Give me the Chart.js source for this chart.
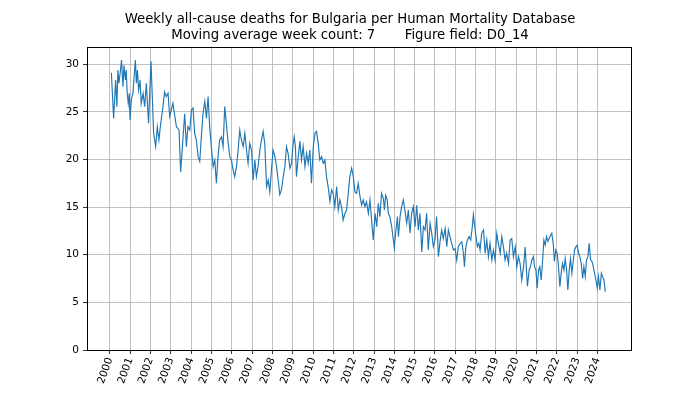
<!DOCTYPE html>
<html>
<head>
<meta charset="utf-8">
<script src="https://cdn.jsdelivr.net/npm/chart.js@4/dist/chart.umd.min.js"></script>
<style>
  html, body { margin: 0; padding: 0; background: #fff; }
  canvas { display: block; }
</style>
</head>
<body>
<canvas id="deathChart" width="700" height="394"></canvas>
<script>
// Weekly all-cause deaths, Bulgaria (HMD), 7-week moving average
var weekYears = [
  2000.07, 2000.18, 2000.28, 2000.34, 2000.39, 2000.44, 2000.51, 2000.57, 2000.64, 2000.69,
  2000.76, 2000.80, 2000.85, 2000.90, 2000.95, 2000.99, 2001.05, 2001.13, 2001.25, 2001.30,
  2001.35, 2001.41, 2001.48, 2001.54, 2001.63, 2001.71, 2001.79, 2001.90, 2002.02, 2002.09,
  2002.15, 2002.25, 2002.33, 2002.41, 2002.50, 2002.61, 2002.69, 2002.77, 2002.86, 2002.94,
  2003.10, 2003.27, 2003.40, 2003.48, 2003.60,
  2003.68, 2003.76, 2003.84, 2003.93, 2004.01, 2004.09, 2004.17, 2004.25, 2004.34, 2004.42,
  2004.50, 2004.58, 2004.67, 2004.75, 2004.83, 2004.91, 2004.99, 2005.08, 2005.16, 2005.24,
  2005.32, 2005.40, 2005.49, 2005.57, 2005.65, 2005.73, 2005.82, 2005.90, 2005.98, 2006.06,
  2006.14, 2006.23, 2006.31, 2006.39, 2006.47, 2006.56, 2006.64, 2006.72, 2006.80, 2006.88,
  2006.97, 2007.05, 2007.13, 2007.21, 2007.29, 2007.38, 2007.46, 2007.54, 2007.62, 2007.71,
  2007.79,
  2007.87, 2007.95, 2008.03, 2008.12, 2008.20, 2008.28, 2008.36, 2008.44, 2008.53, 2008.61,
  2008.69, 2008.77, 2008.86, 2008.94, 2009.02, 2009.07, 2009.13, 2009.18, 2009.27, 2009.35,
  2009.43, 2009.51, 2009.60, 2009.68, 2009.76, 2009.84, 2009.92, 2010.01, 2010.09, 2010.17,
  2010.25, 2010.33, 2010.42, 2010.50, 2010.58, 2010.66, 2010.74, 2010.83, 2010.91, 2010.99,
  2011.07, 2011.16, 2011.24, 2011.32, 2011.40, 2011.48, 2011.57, 2011.65, 2011.73, 2011.81,
  2011.90, 2011.98,
  2012.06, 2012.14, 2012.22, 2012.31, 2012.39, 2012.47, 2012.55, 2012.63, 2012.72, 2012.80,
  2012.88, 2012.96, 2013.05, 2013.13, 2013.21, 2013.29, 2013.37, 2013.46, 2013.51, 2013.57,
  2013.65, 2013.70, 2013.78, 2013.87, 2013.95, 2014.00, 2014.06, 2014.15, 2014.20, 2014.28,
  2014.36, 2014.44, 2014.52, 2014.61, 2014.69, 2014.77, 2014.85, 2014.93, 2015.02, 2015.10,
  2015.18, 2015.26, 2015.35, 2015.43, 2015.51, 2015.59, 2015.67, 2015.76, 2015.84, 2015.92,
  2016.00, 2016.08, 2016.17,
  2016.25, 2016.33, 2016.41, 2016.50, 2016.58, 2016.66, 2016.74, 2016.82, 2016.91, 2016.99,
  2017.07, 2017.15, 2017.24, 2017.32, 2017.40, 2017.45, 2017.52, 2017.60, 2017.68, 2017.76,
  2017.84, 2017.89, 2017.96, 2018.02, 2018.09, 2018.16, 2018.22, 2018.30, 2018.39, 2018.47,
  2018.55, 2018.63, 2018.71, 2018.80, 2018.88, 2018.96, 2019.04, 2019.12, 2019.21, 2019.29,
  2019.37, 2019.45, 2019.53, 2019.62, 2019.70, 2019.78, 2019.86, 2019.95, 2020.03, 2020.11,
  2020.19, 2020.27, 2020.36,
  2020.44, 2020.55, 2020.64, 2020.70, 2020.77, 2020.85, 2020.90, 2020.97, 2021.03, 2021.10,
  2021.16, 2021.23, 2021.29, 2021.36, 2021.43, 2021.49, 2021.56, 2021.62, 2021.69, 2021.75,
  2021.82, 2021.88, 2021.95, 2022.02, 2022.08, 2022.15, 2022.21, 2022.28, 2022.35, 2022.41,
  2022.48, 2022.54, 2022.61, 2022.67, 2022.74, 2022.81, 2022.87, 2022.94, 2023.00, 2023.07,
  2023.13, 2023.20, 2023.27, 2023.33, 2023.40, 2023.46, 2023.53, 2023.59, 2023.66, 2023.73,
  2023.79, 2023.86, 2023.92, 2023.99, 2024.05, 2024.12, 2024.19, 2024.25, 2024.32, 2024.38
];

var deaths = [
  29.1, 24.3, 28.35, 25.55, 29.4, 28.0, 29.2, 30.45, 27.65, 29.9,
  28.35, 29.4, 26.95, 25.9, 26.95, 24.15, 26.25, 26.95, 30.45, 28.0,
  29.4, 27.3, 28.35, 25.9, 26.95, 25.55, 28.0, 23.8, 30.3, 26.25,
  22.75, 21.35, 23.45, 22.05, 23.8, 25.55, 27.1, 26.6, 26.95, 24.5,
  25.9, 23.45, 23.1, 18.7, 22.4,
  24.8, 21.35, 23.45, 23.1, 25.2, 25.4, 22.75, 22.05, 20.3, 19.8,
  22.4, 24.85, 26.1, 24.3, 26.6, 23.45, 21.35, 19.25, 19.95, 17.5,
  20.3, 22.05, 22.4, 21.35, 25.55, 23.8, 21.7, 20.3, 19.95, 18.9,
  18.2, 19.25, 21.0, 23.1, 22.05, 21.35, 22.75, 21.0, 19.6, 21.7,
  21.0, 17.85, 19.95, 18.2, 19.25, 21.0, 22.05, 22.95, 21.7, 17.15,
  17.85,
  16.6, 18.9, 21.0, 20.3, 19.25, 17.85, 16.3, 16.8, 18.2, 19.25,
  21.35, 20.65, 19.1, 19.6, 21.7, 22.4, 21.35, 18.2, 20.3, 21.9,
  19.95, 21.35, 19.25, 20.65, 19.6, 21.0, 17.5, 21.35, 22.75, 22.95,
  21.7, 19.95, 20.3, 19.6, 19.95, 18.2, 17.15, 15.6, 16.8, 16.45,
  15.05, 17.15, 14.7, 15.75, 15.05, 13.65, 14.35, 14.7, 16.45, 18.2,
  19.1, 18.2,
  16.6, 16.45, 17.5, 16.1, 15.2, 15.75, 15.05, 15.55, 14.35, 15.75,
  13.65, 11.55, 14.35, 12.95, 15.4, 14.0, 16.45, 15.9, 14.7, 16.25,
  15.75, 14.35, 14.0, 12.95, 11.55, 10.7, 12.25, 14.0, 11.9, 14.0,
  15.05, 15.75, 14.7, 13.3, 14.7, 12.25, 14.35, 15.05, 12.95, 15.2,
  12.6, 14.35, 10.3, 12.95, 12.6, 14.35, 10.5, 13.3, 12.25, 10.85,
  11.55, 14.0, 9.8,
  11.4, 12.6, 11.7, 12.75, 10.85, 12.6, 11.9, 11.2, 10.5, 10.65,
  9.45, 10.85, 11.2, 11.35, 10.15, 8.75, 10.85, 11.55, 11.9, 11.55,
  12.95, 14.2, 12.95, 11.9, 10.85, 11.2, 10.5, 12.25, 12.6, 10.15,
  11.55, 9.8, 11.2, 9.45, 10.5, 9.45, 12.25, 11.2, 10.15, 11.9,
  10.85, 9.45, 10.15, 9.1, 11.55, 11.7, 9.8, 10.85, 8.75, 9.8,
  9.1, 7.35, 8.75,
  10.8, 6.7, 8.4, 8.75, 9.45, 9.8, 8.75, 8.4, 6.5, 8.4,
  8.75, 7.35, 9.1, 11.55, 11.0, 11.9, 11.4, 11.7, 12.05, 12.25,
  11.2, 9.3, 10.5, 10.15, 8.75, 6.65, 8.05, 9.1, 8.4, 9.6,
  8.4, 6.3, 8.4, 9.6, 8.05, 9.45, 10.5, 10.85, 11.0, 10.15,
  9.8, 9.1, 7.5, 8.75, 7.7, 9.45, 9.8, 11.2, 9.45, 9.3,
  8.75, 8.05, 7.35, 6.5, 7.7, 6.3, 8.05, 7.7, 7.35, 6.1
];

var yearTicks = [];
for (var yr = 2000; yr <= 2024; yr++) yearTicks.push(yr);
var yTicks = [0, 5, 10, 15, 20, 25, 30];

var points = weekYears.map(function (x, i) { return { x: x, y: deaths[i] }; });

// matplotlib-style box around the axes
var frame = {
  id: 'frame',
  afterDraw: function (chart) {
    var a = chart.chartArea, ctx = chart.ctx;
    ctx.save();
    ctx.strokeStyle = '#000';
    ctx.lineWidth = 1;
    ctx.strokeRect(Math.round(a.left) + 0.5, Math.round(a.top) + 0.5,
      Math.round(a.right - a.left), Math.round(a.bottom - a.top));
    ctx.restore();
  }
};

var font = { family: 'DejaVu Sans', size: 10.5 };

new Chart(document.getElementById('deathChart').getContext('2d'), {
  type: 'line',
  data: {
    datasets: [{
      data: points,
      borderColor: '#1f77b4',
      borderWidth: 1.15,
      pointRadius: 0,
      tension: 0,
      fill: false
    }]
  },
  options: {
    responsive: false,
    animation: false,
    layout: { padding: 0 },
    plugins: {
      legend: { display: false },
      tooltip: { enabled: false },
      title: {
        display: true,
        text: ['Weekly all-cause deaths for Bulgaria per Human Mortality Database',
               'Moving average week count: 7       Figure field: D0_14'],
        color: '#000',
        font: { family: 'DejaVu Sans', size: 13.25, weight: 'normal', lineHeight: 1.22 },
        padding: { top: 11, bottom: 3.3 }
      }
    },
    scales: {
      x: {
        type: 'linear',
        min: 1998.87,
        max: 2025.65,
        afterBuildTicks: function (s) { s.ticks = yearTicks.map(function (v) { return { value: v }; }); },
        afterFit: function (s) { s.height = 44; },
        ticks: {
          autoSkip: false,
          minRotation: 70,
          maxRotation: 70,
          color: '#000',
          font: font,
          padding: 2,
          callback: function (v) { return String(v); }
        },
        grid: { color: '#b0b0b0', lineWidth: 0.8, tickLength: 4, tickColor: '#000' },
        border: { display: false }
      },
      y: {
        min: 0,
        max: 31.85,
        afterBuildTicks: function (s) { s.ticks = yTicks.map(function (v) { return { value: v }; }); },
        afterFit: function (s) { s.width = 87; },
        ticks: { color: '#000', font: font, padding: 4 },
        grid: { color: '#b0b0b0', lineWidth: 0.8, tickLength: 4, tickColor: '#000' },
        border: { display: false }
      },
      // empty right margin, so the title stays centred on the whole figure
      yRight: {
        position: 'right',
        min: 0,
        max: 31.85,
        afterFit: function (s) { s.width = 69; },
        ticks: { display: false },
        grid: { display: false },
        border: { display: false }
      }
    }
  },
  plugins: [frame]
});
</script>
</body>
</html>
